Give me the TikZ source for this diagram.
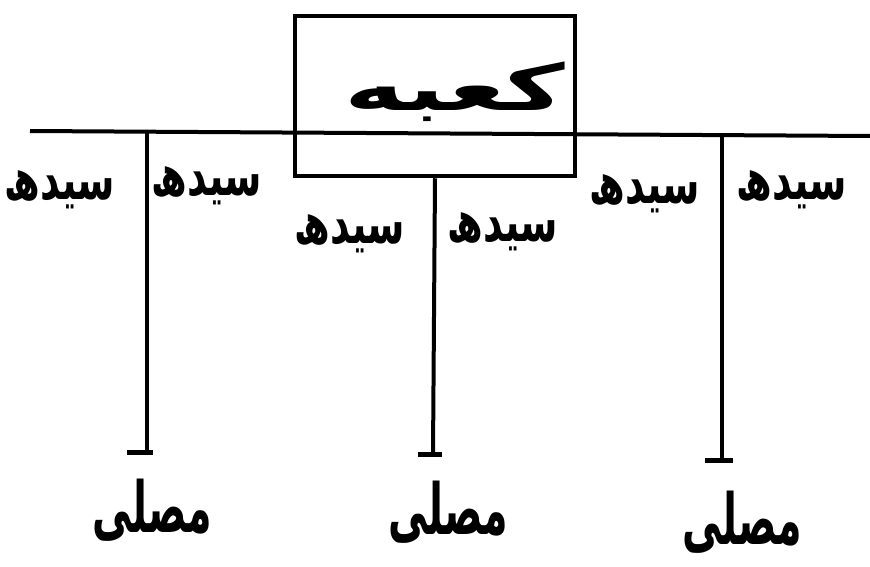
\documentclass[tikz,border=0pt]{standalone}
\usepackage{fontspec}
\usepackage{graphicx}
\newfontfamily\arabicfont[Script=Arabic]{DejaVu Sans}
\TeXXeTstate=1
\newcommand{\mywd}[3]{\scalebox{#1}[#2]{\beginR #3\endR}}
\begin{document}
\begin{tikzpicture}[x=1pt,y=-1pt,
  rule/.style={line width=4pt,black},
  bar/.style={line width=5pt,black},
  lbl/.style={inner sep=0pt,font=\arabicfont\bfseries\fontsize{38}{44}\selectfont},
  msl/.style={inner sep=0pt,font=\arabicfont\bfseries\fontsize{44}{50}\selectfont},
  boxstyle/.style={draw,line width=4.5pt,minimum width=280pt,minimum height=160pt,inner sep=0pt}]
\useasboundingbox (0,0) rectangle (870,567);
% main horizontal line
\coordinate (L) at (30,131);
\coordinate (R) at (870,136);
\draw[rule] (L) -- (R);
% Kaaba box
\node[boxstyle] (kaaba) at (435,96) {};
\node[inner sep=0pt,font=\arabicfont\bfseries\fontsize{64}{70}\selectfont] (kaabatxt) at (455,92) {\mywd{1.6}{1}{کعبه}};
% vertical lines
\coordinate (t1) at (147,132);
\coordinate (b1) at (147,452);
\coordinate (b1l) at (127,452);
\coordinate (b1r) at (153,452);
\coordinate (b2) at (433,454);
\coordinate (b2l) at (418,454);
\coordinate (b2r) at (442,454);
\coordinate (t3) at (722,135);
\coordinate (b3) at (722,460);
\coordinate (b3l) at (705,460);
\coordinate (b3r) at (733,460);
\draw[rule] (t1) -- (b1);
\draw[rule] (kaaba.south) -- (b2);
\draw[rule] (t3) -- (b3);
\draw[bar] (b1l) -- (b1r);
\draw[bar] (b2l) -- (b2r);
\draw[bar] (b3l) -- (b3r);
% direction labels
\node[lbl] (s1) at (60,190) {\mywd{1}{1.5}{سیدھ}};
\node[lbl] (s2) at (207,186) {\mywd{1}{1.5}{سیدھ}};
\node[lbl] (s3) at (350,234) {\mywd{1}{1.5}{سیدھ}};
\node[lbl] (s4) at (503,232) {\mywd{1}{1.5}{سیدھ}};
\node[lbl] (s5) at (645,194) {\mywd{1}{1.5}{سیدھ}};
\node[lbl] (s6) at (792,190) {\mywd{1}{1.5}{سیدھ}};
% musalli labels
\node[msl] (m1) at (152,510) {\mywd{0.9}{1.6}{مصلی}};
\node[msl] (m2) at (448,512) {\mywd{0.9}{1.6}{مصلی}};
\node[msl] (m3) at (742,522) {\mywd{0.9}{1.6}{مصلی}};
\end{tikzpicture}
\end{document}
